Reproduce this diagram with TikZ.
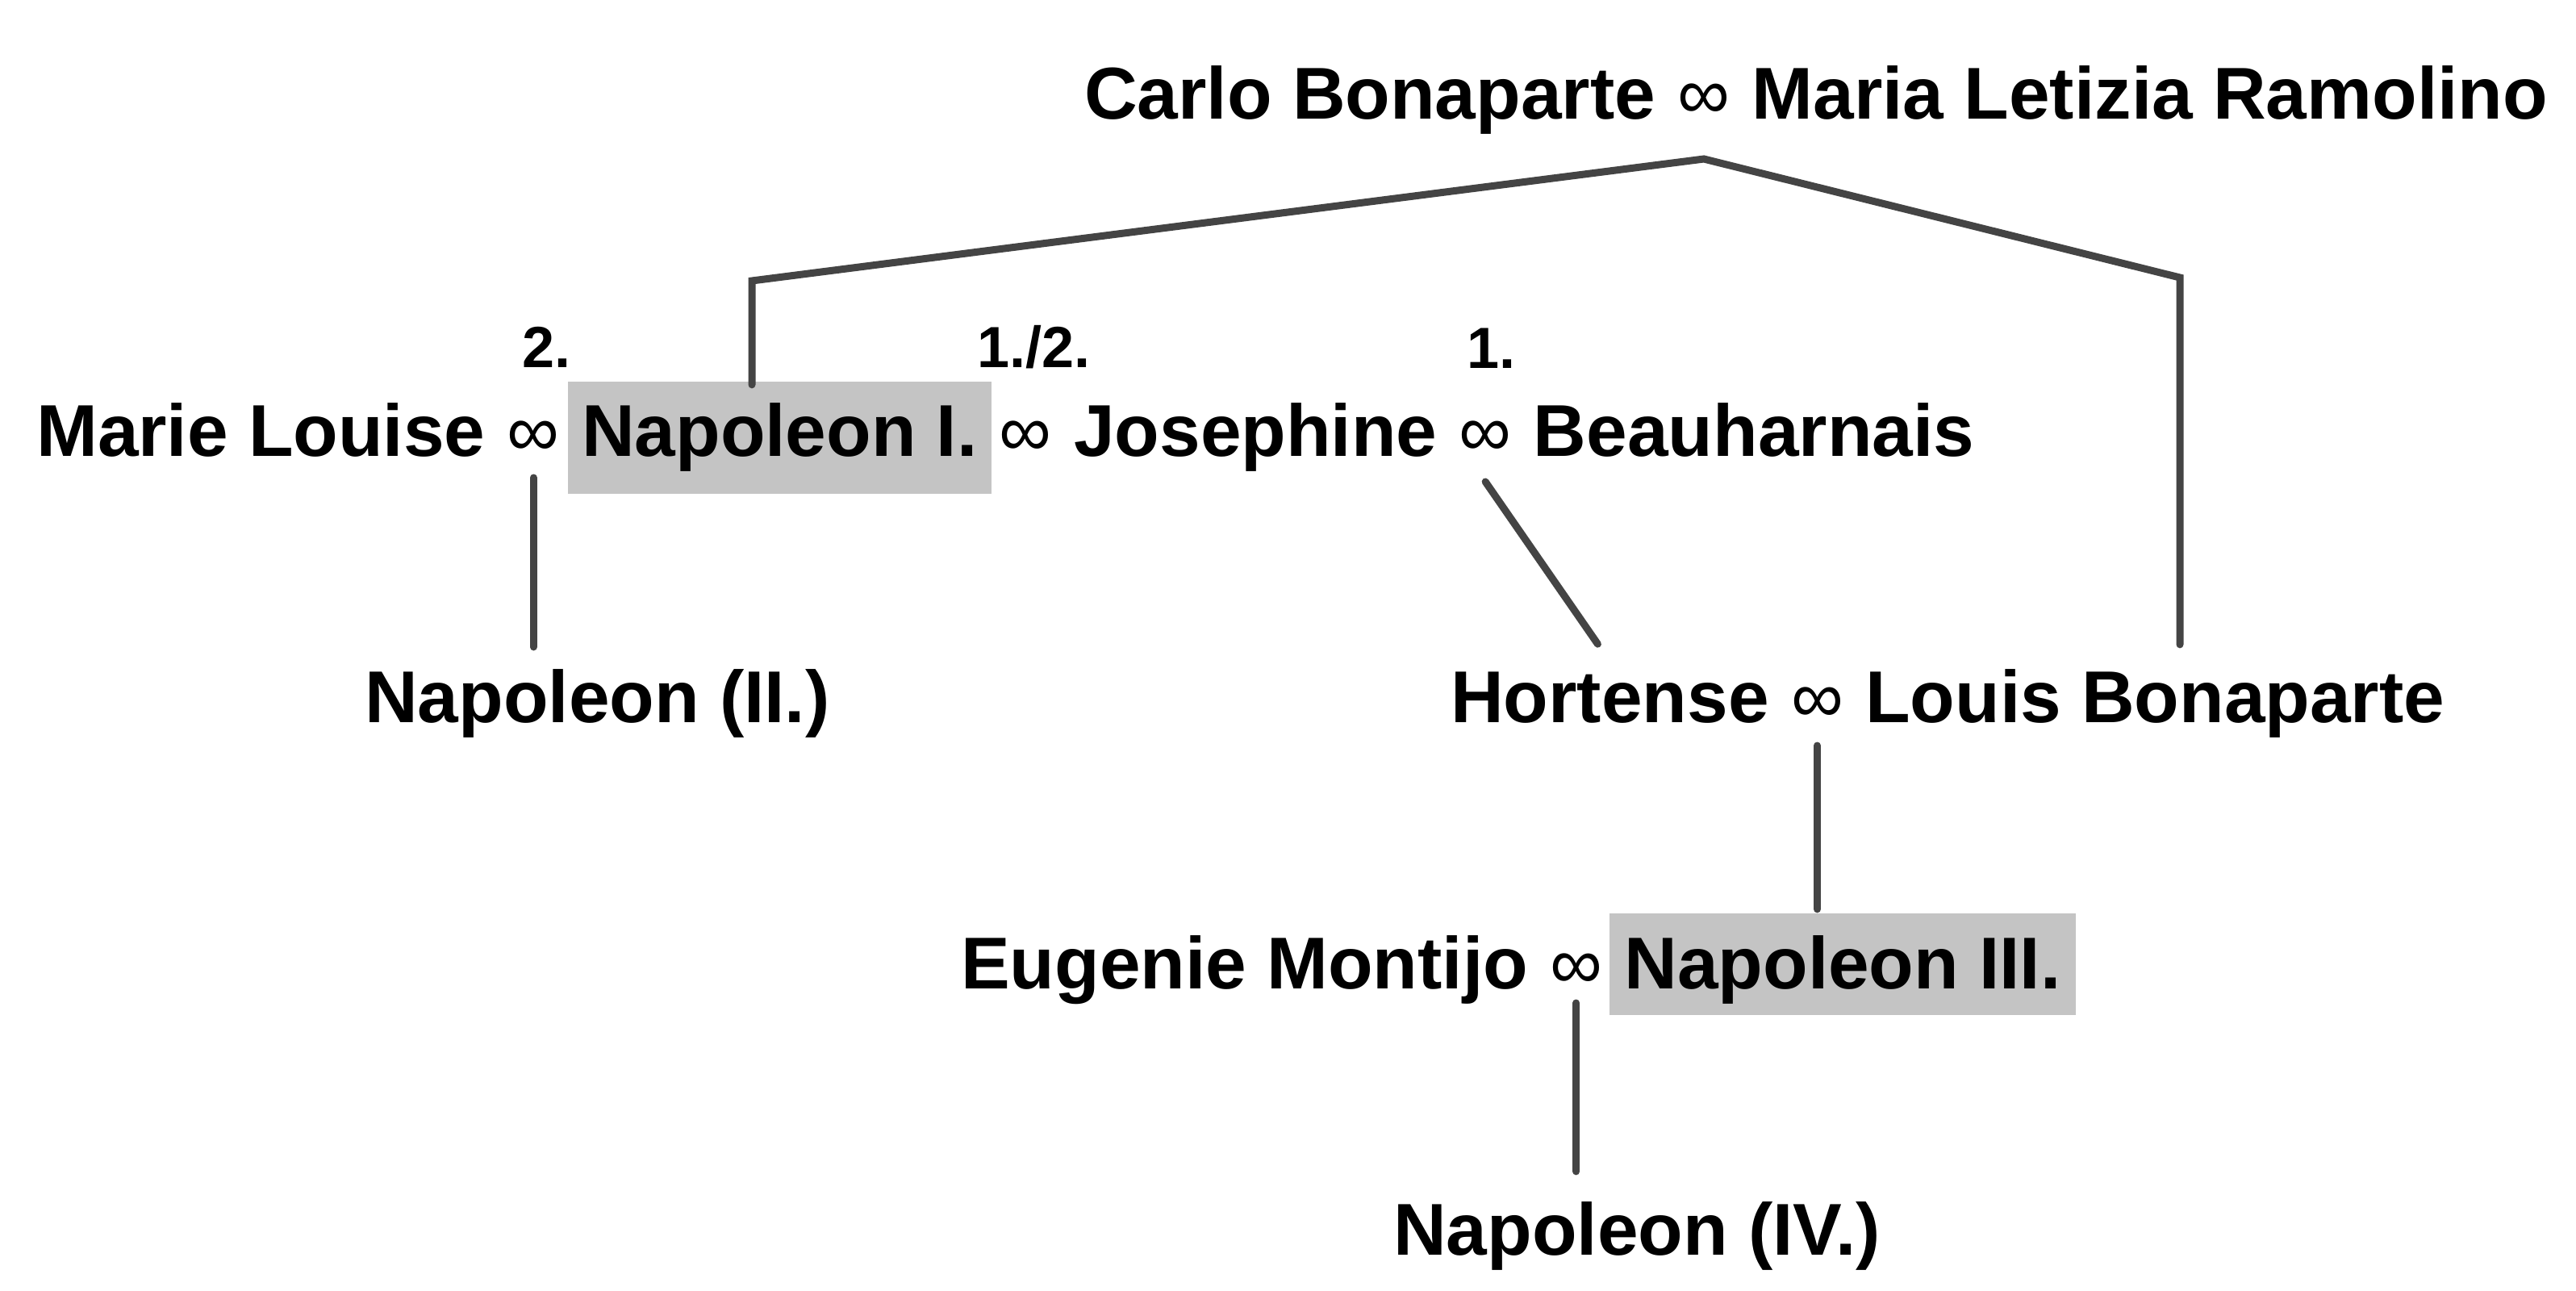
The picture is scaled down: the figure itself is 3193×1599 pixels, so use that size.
\documentclass[tikz,border=0pt]{standalone}
\usepackage{fontspec}
\setmainfont{Liberation Sans}
\usetikzlibrary{backgrounds,calc}
\definecolor{linec}{HTML}{444444}
\definecolor{boxc}{HTML}{C4C4C4}
\def\wgap{27pt}
\tikzset{
  nm/.style={anchor=base west, inner sep=0pt, font=\fontsize{91}{100}\selectfont\bfseries},
  infn/.style={anchor=base west, inner sep=0pt, font=\fontsize{91}{100}\selectfont\mdseries},
  lbl/.style={anchor=base west, inner sep=0pt, font=\fontsize{72}{80}\selectfont\bfseries},
  conn/.style={draw=linec, line width=9pt, line cap=round, line join=miter},
  boxf/.style={fill=boxc},
}
\begin{document}
\begin{tikzpicture}[x=1pt,y=-1pt]
\useasboundingbox (0,0) rectangle (3193,1599);
% row 1
\node[nm] (carlo) at (1344,147) {Carlo Bonaparte};
\node[infn] (inf0) at ([xshift=\wgap]carlo.base east) {∞};
\node[nm] (letizia) at ([xshift=\wgap]inf0.base east) {Maria Letizia Ramolino};
% row 2
\node[nm] (marie) at (45,565) {Marie Louise};
\node[infn] (inf1) at ([xshift=\wgap]marie.base east) {∞};
\node[nm] (nap1) at ([xshift=\wgap]inf1.base east) {Napoleon I.};
\node[infn] (inf2) at ([xshift=\wgap]nap1.base east) {∞};
\node[nm] (jose) at ([xshift=\wgap]inf2.base east) {Josephine};
\node[infn] (inf3) at ([xshift=\wgap]jose.base east) {∞};
\node[nm] (beau) at ([xshift=\wgap]inf3.base east) {Beauharnais};
% marriage numbers
\node[lbl] (l2) at (647,455) {2.};
\node[lbl] (l12) at (1211,455) {1./2.};
\node[lbl] (l1) at (1818,456) {1.};
% row 3
\node[nm] (nap2) at (452,895) {Napoleon (II.)};
\node[nm] (hort) at (1798,895) {Hortense};
\node[infn] (inf4) at ([xshift=\wgap]hort.base east) {∞};
\node[nm] (louis) at ([xshift=\wgap]inf4.base east) {Louis Bonaparte};
% row 4
\node[nm] (eug) at (1191,1225) {Eugenie Montijo};
\node[infn] (inf5) at ([xshift=\wgap]eug.base east) {∞};
\node[nm] (nap3) at ([xshift=\wgap]inf5.base east) {Napoleon III.};
% row 5
\node[nm] (nap4) at (1727,1555) {Napoleon (IV.)};
% highlight boxes
\begin{scope}[on background layer]
\fill[boxf] ($(nap1.base west)+(-17,-92)$) rectangle ($(nap1.base east)+(17,47)$);
\fill[boxf] ($(nap3.base west)+(-18,-93)$) rectangle ($(nap3.base east)+(18,33)$);
\end{scope}
% connectors
\coordinate (apex) at ($(inf0.base)+(0,50)$);
\coordinate (lc) at (932,348);
\coordinate (rc) at (2702,344);
\draw[conn] ($(lc |- nap1.north)+(0,-22)$) -- (lc) -- (apex) -- (rc) -- ($(rc |- louis.north)+(0,-30)$);
\draw[conn] ($(inf1.base)+(0,27)$) -- ($(inf1.base |- nap2.north)+(0,-27)$);
\draw[conn] ($(inf3.base)+(0,32)$) -- ($(hort.north)+(-15,-34)$);
\draw[conn] ($(inf4.base)+(0,29)$) -- ($(inf4.base |- nap3.north)+(0,-32)$);
\draw[conn] ($(inf5.base)+(0,18)$) -- ($(inf5.base |- nap4.north)+(0,-37)$);
\end{tikzpicture}
\end{document}
